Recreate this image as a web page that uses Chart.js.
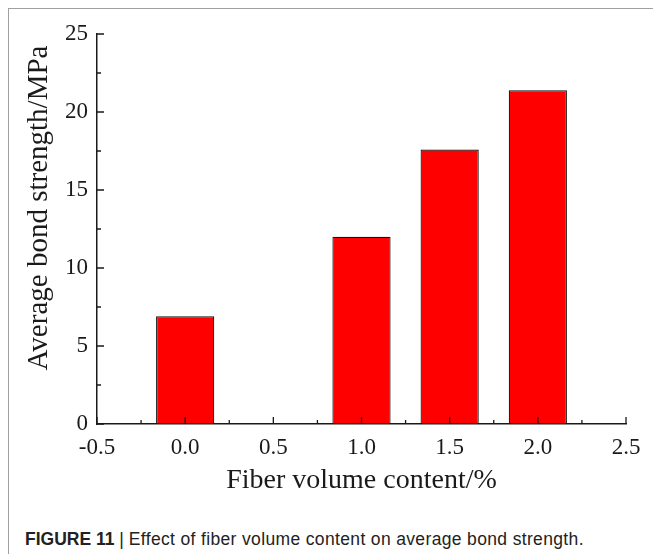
<!DOCTYPE html>
<html>
<head>
<meta charset="utf-8">
<script src="https://cdn.jsdelivr.net/npm/chart.js@4.4.0/dist/chart.umd.min.js"></script>
<style>
  body { margin: 0; background: #fff; }
  #frame { position: absolute; left: 8px; top: 8px; width: 700px; height: 600px;
           border-left: 1.5px solid #a0a0a0; border-top: 1.5px solid #a0a0a0; }
  #wrap { position: absolute; left: 0; top: 0; width: 653px; height: 510px; }
  #caption { position: absolute; left: 25px; top: 529px; color: #222; white-space: nowrap;
             font: 17.5px "Liberation Sans", Arial, sans-serif; }
  #caption b { font-weight: bold; }
  #caption span { letter-spacing: 0.35px; }
</style>
</head>
<body>
<div id="frame"></div>
<div id="wrap"><canvas id="bondChart"></canvas></div>
<div id="caption"><b>FIGURE 11</b> | <span>Effect of fiber volume content on average bond strength.</span></div>
<script>
// data
const fiberContent = [0.0, 1.0, 1.5, 2.0];      // %
const bondStrength = [6.9, 12.0, 17.6, 21.4];   // MPa
const xTitle = 'Fiber volume content/%';
const yTitle = 'Average bond strength/MPa';

const serif = '"Liberation Serif", "Times New Roman", serif';
const ink = '#1a1a1a';

// inward major/minor ticks + axis titles
const axisExtras = {
  id: 'axisExtras',
  afterDatasetsDraw(chart) {
    const { ctx, chartArea: a, scales: { x, y } } = chart;
    ctx.save();
    ctx.strokeStyle = ink;
    ctx.lineWidth = 1.3;
    ctx.beginPath();
    for (let v = x.min; v <= x.max + 1e-9; v += 0.25) {
      const px = x.getPixelForValue(v);
      const len = Math.abs(v / 0.5 - Math.round(v / 0.5)) < 1e-6 ? 7 : 4;
      ctx.moveTo(px, a.bottom);
      ctx.lineTo(px, a.bottom - len);
    }
    for (let v = y.min; v <= y.max + 1e-9; v += 2.5) {
      const py = y.getPixelForValue(v);
      const len = Math.abs(v / 5 - Math.round(v / 5)) < 1e-6 ? 7 : 4;
      ctx.moveTo(a.left, py);
      ctx.lineTo(a.left + len, py);
    }
    ctx.stroke();

    ctx.fillStyle = ink;
    ctx.font = '28px ' + serif;
    ctx.textAlign = 'center';
    ctx.textBaseline = 'alphabetic';
    ctx.fillText(xTitle, (a.left + a.right) / 2, a.bottom + 64);

    ctx.font = '29px ' + serif;
    ctx.translate(47, (a.top + a.bottom) / 2 - 21);
    ctx.rotate(-Math.PI / 2);
    ctx.fillText(yTitle, 0, 0);
    ctx.restore();
  }
};

new Chart(document.getElementById('bondChart'), {
  type: 'bar',
  data: {
    datasets: [{
      data: fiberContent.map((v, i) => ({ x: v, y: bondStrength[i] })),
      backgroundColor: '#ff0000',
      borderColor: '#111111',
      borderWidth: 1.2,
      barPercentage: 1,
      categoryPercentage: 0.66
    }]
  },
  options: {
    responsive: true,
    maintainAspectRatio: false,
    animation: false,
    layout: { padding: { top: 34, right: 27, left: 0, bottom: 0 } },
    plugins: { legend: { display: false }, tooltip: { enabled: false } },
    scales: {
      x: {
        type: 'linear',
        min: -0.5,
        max: 2.5,
        offset: false,
        afterFit: s => { s.height = 86; },
        grid: { display: true, drawOnChartArea: false, drawTicks: false },
        border: { display: true, color: ink, width: 1.5 },
        ticks: {
          stepSize: 0.5,
          padding: 10,
          color: ink,
          font: { family: serif, size: 23 },
          callback: v => v.toFixed(1)
        }
      },
      y: {
        min: 0,
        max: 25,
        afterFit: s => { s.width = 97; },
        grid: { display: true, drawOnChartArea: false, drawTicks: false },
        border: { display: true, color: ink, width: 1.5 },
        ticks: {
          stepSize: 5,
          padding: 9,
          color: ink,
          font: { family: serif, size: 23 }
        }
      }
    }
  },
  plugins: [axisExtras]
});
</script>
</body>
</html>
